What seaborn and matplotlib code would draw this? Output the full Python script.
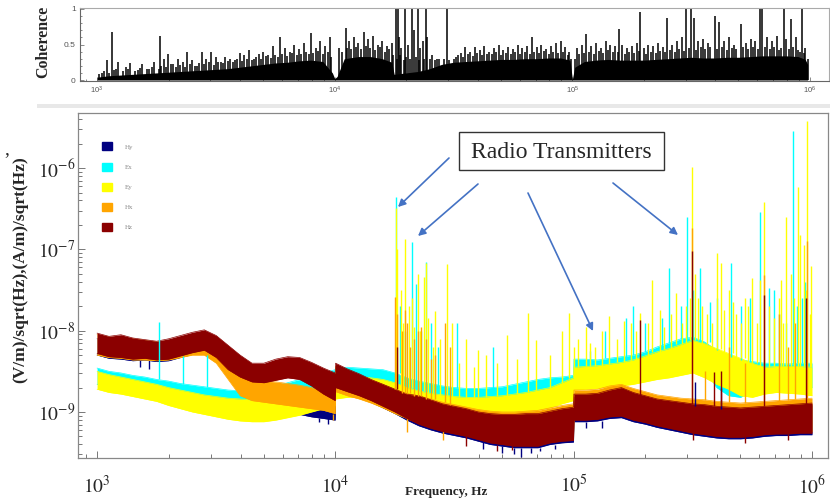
import numpy as np
import matplotlib
matplotlib.use("Agg")
import matplotlib.pyplot as plt
import seaborn as sns
from matplotlib.patches import Patch, Rectangle, FancyArrowPatch

# ---- data (log10 frequency in Hz, log10 amplitude) ----
log_f = [3.00, 3.05, 3.10, 3.15, 3.20, 3.25, 3.30, 3.35, 3.40, 3.45,
         3.50, 3.55, 3.60, 3.65, 3.70, 3.75, 3.80, 3.85, 3.90, 3.95,
         3.999, 4.001,
         4.05, 4.10, 4.15, 4.20, 4.25, 4.30, 4.35, 4.40, 4.45, 4.50,
         4.55, 4.60, 4.65, 4.70, 4.75, 4.80, 4.85, 4.90, 4.95,
         4.999, 5.001,
         5.05, 5.10, 5.15, 5.20, 5.25, 5.30, 5.35, 5.40, 5.45, 5.50,
         5.55, 5.60, 5.65, 5.70, 5.75, 5.80, 5.85, 5.90, 5.95, 6.00]

hy_top = [-8.10, -8.12, -8.13, -8.15, -8.16, -8.18, -8.15, -8.11, -8.08, -8.06,
          -8.14, -8.28, -8.50, -8.62, -8.66, -8.68, -8.70, -8.72, -8.74, -8.76,
          -8.78, -8.50,
          -8.55, -8.60, -8.66, -8.72, -8.78, -8.83, -8.86, -8.90, -8.94, -8.97,
          -9.00, -9.03, -9.05, -9.06, -9.06, -9.05, -9.05, -9.02, -8.99,
          -8.97, -8.82,
          -8.82, -8.80, -8.77, -8.74, -8.79, -8.83, -8.87, -8.89, -8.91, -8.93,
          -8.94, -8.96, -8.97, -8.97, -8.96, -8.95, -8.94, -8.93, -8.92, -8.91]
hy_bot = [-8.30, -8.34, -8.35, -8.37, -8.36, -8.38, -8.37, -8.33, -8.29, -8.26,
          -8.35, -8.55, -8.76, -8.90, -8.96, -8.98, -9.00, -9.03, -9.06, -9.08,
          -9.10, -8.72,
          -8.77, -8.82, -8.88, -8.95, -9.02, -9.10, -9.17, -9.22, -9.26, -9.29,
          -9.32, -9.36, -9.40, -9.42, -9.44, -9.44, -9.44, -9.40, -9.38,
          -9.37, -9.12,
          -9.12, -9.11, -9.08, -9.07, -9.12, -9.15, -9.19, -9.22, -9.25, -9.28,
          -9.30, -9.32, -9.33, -9.33, -9.32, -9.30, -9.29, -9.29, -9.28, -9.28]

ex_top = [-8.46, -8.50, -8.52, -8.55, -8.57, -8.60, -8.62, -8.65, -8.67, -8.69,
          -8.71, -8.73, -8.74, -8.74, -8.72, -8.68, -8.64, -8.60, -8.56, -8.52,
          -8.48, -8.46,
          -8.45, -8.46, -8.47, -8.48, -8.52, -8.58, -8.62, -8.65, -8.68, -8.70,
          -8.71, -8.71, -8.70, -8.69, -8.66, -8.63, -8.60, -8.58, -8.57,
          -8.55, -8.35,
          -8.35, -8.36, -8.34, -8.32, -8.30, -8.26, -8.20, -8.15, -8.10, -8.08,
          -8.14, -8.24, -8.32, -8.36, -8.38, -8.40, -8.40, -8.41, -8.40, -8.40]
ex_bot = [-8.66, -8.70, -8.72, -8.75, -8.78, -8.80, -8.83, -8.86, -8.88, -8.90,
          -8.93, -8.95, -8.97, -8.98, -8.97, -8.93, -8.88, -8.84, -8.80, -8.76,
          -8.72, -8.70,
          -8.69, -8.70, -8.71, -8.72, -8.76, -8.82, -8.86, -8.89, -8.92, -8.94,
          -8.95, -8.95, -8.94, -8.93, -8.90, -8.87, -8.84, -8.82, -8.80,
          -8.78, -8.60,
          -8.60, -8.61, -8.59, -8.57, -8.55, -8.52, -8.47, -8.42, -8.38, -8.36,
          -8.48, -8.70, -8.80, -8.82, -8.74, -8.70, -8.70, -8.71, -8.70, -8.70]

ey_top = [-8.50, -8.54, -8.57, -8.60, -8.63, -8.66, -8.70, -8.73, -8.76, -8.79,
          -8.81, -8.83, -8.84, -8.85, -8.85, -8.84, -8.82, -8.80, -8.77, -8.73,
          -8.68, -8.60,
          -8.58, -8.57, -8.58, -8.60, -8.64, -8.70, -8.74, -8.77, -8.79, -8.81,
          -8.82, -8.82, -8.81, -8.80, -8.78, -8.76, -8.73, -8.70, -8.64,
          -8.58, -8.45,
          -8.44, -8.43, -8.41, -8.39, -8.36, -8.31, -8.26, -8.22, -8.17, -8.12,
          -8.16, -8.22, -8.28, -8.34, -8.40, -8.45, -8.44, -8.44, -8.44, -8.45]
ey_bot = [-8.72, -8.76, -8.78, -8.81, -8.84, -8.87, -8.92, -8.96, -9.00, -9.03,
          -9.06, -9.09, -9.11, -9.12, -9.12, -9.10, -9.07, -9.04, -9.00, -8.96,
          -8.92, -8.84,
          -8.82, -8.82, -8.84, -8.88, -8.93, -8.97, -9.00, -9.02, -9.04, -9.05,
          -9.06, -9.06, -9.05, -9.04, -9.02, -9.00, -8.98, -8.95, -8.90,
          -8.86, -8.73,
          -8.72, -8.71, -8.69, -8.68, -8.66, -8.63, -8.60, -8.58, -8.55, -8.52,
          -8.58, -8.66, -8.72, -8.80, -8.82, -8.78, -8.76, -8.77, -8.78, -8.80]

hx_top = [-8.05, -8.08, -8.08, -8.10, -8.12, -8.14, -8.12, -8.08, -8.05, -8.04,
          -8.14, -8.35, -8.55, -8.60, -8.62, -8.63, -8.65, -8.67, -8.70, -8.73,
          -8.76, -8.44,
          -8.50, -8.55, -8.61, -8.66, -8.72, -8.77, -8.80, -8.84, -8.88, -8.91,
          -8.94, -8.97, -8.99, -9.00, -9.00, -8.99, -8.98, -8.95, -8.92,
          -8.90, -8.73,
          -8.73, -8.72, -8.68, -8.66, -8.71, -8.75, -8.79, -8.81, -8.83, -8.84,
          -8.85, -8.87, -8.88, -8.89, -8.88, -8.87, -8.86, -8.85, -8.84, -8.83]
hx_bot = [-8.30, -8.33, -8.34, -8.36, -8.36, -8.37, -8.36, -8.33, -8.30, -8.30,
          -8.40, -8.60, -8.80, -8.86, -8.88, -8.90, -8.92, -8.94, -8.96, -8.98,
          -9.02, -8.75,
          -8.80, -8.84, -8.89, -8.95, -9.02, -9.08, -9.14, -9.19, -9.23, -9.26,
          -9.29, -9.33, -9.36, -9.38, -9.40, -9.40, -9.40, -9.36, -9.34,
          -9.33, -9.08,
          -9.08, -9.07, -9.04, -9.02, -9.07, -9.11, -9.15, -9.18, -9.21, -9.24,
          -9.26, -9.28, -9.29, -9.29, -9.28, -9.27, -9.26, -9.25, -9.24, -9.24]

hz_top = [-8.03, -8.07, -8.05, -8.09, -8.11, -8.13, -8.10, -8.06, -8.02, -7.99,
          -8.06, -8.18, -8.30, -8.40, -8.40, -8.35, -8.32, -8.33, -8.39, -8.46,
          -8.52, -8.40,
          -8.47, -8.53, -8.60, -8.66, -8.72, -8.78, -8.80, -8.85, -8.90, -8.93,
          -8.96, -9.00, -9.02, -9.03, -9.03, -9.02, -9.02, -8.99, -8.96,
          -8.94, -8.78,
          -8.78, -8.77, -8.73, -8.70, -8.76, -8.80, -8.84, -8.86, -8.88, -8.90,
          -8.91, -8.93, -8.94, -8.95, -8.94, -8.93, -8.92, -8.91, -8.90, -8.89]
hz_bot = [-8.28, -8.32, -8.33, -8.35, -8.34, -8.36, -8.35, -8.31, -8.27, -8.24,
          -8.33, -8.48, -8.57, -8.63, -8.64, -8.61, -8.58, -8.60, -8.68, -8.78,
          -8.86, -8.70,
          -8.75, -8.80, -8.86, -8.93, -9.00, -9.08, -9.15, -9.20, -9.24, -9.27,
          -9.30, -9.34, -9.38, -9.40, -9.42, -9.42, -9.42, -9.38, -9.36,
          -9.35, -9.10,
          -9.10, -9.09, -9.06, -9.05, -9.10, -9.13, -9.17, -9.20, -9.23, -9.26,
          -9.28, -9.30, -9.31, -9.31, -9.30, -9.28, -9.27, -9.27, -9.26, -9.26]

# narrow lines above each band: log10 f, log10 peak
hy_spk_f = [5.51, 5.62]
hy_spk_v = [-8.63, -8.70]
ex_spk_f = [3.26, 3.36, 3.46, 4.256, 4.27, 4.29, 4.32, 4.34, 4.36, 4.38,
            4.40, 4.43, 4.51, 4.66, 5.07, 5.13, 5.22, 5.25, 5.30, 5.37,
            5.40, 5.45, 5.475, 5.50, 5.53, 5.57, 5.60, 5.66, 5.70, 5.74,
            5.78, 5.82, 5.84, 5.86, 5.89, 5.92, 5.935, 5.96, 5.97]
ex_spk_v = [-7.89, -8.31, -8.30, -6.36, -7.70, -8.00, -6.91, -7.43, -8.00, -7.15,
            -7.90, -8.20, -7.91, -8.20, -8.25, -8.00, -7.84, -7.70, -7.90, -7.85,
            -7.23, -7.70, -6.60, -7.50, -7.23, -7.65, -7.60, -7.17, -7.70, -7.60,
            -6.54, -7.48, -7.50, -7.80, -7.90, -5.55, -7.70, -7.60, -7.40]
ey_spk_f = [4.255, 4.26, 4.275, 4.285, 4.294, 4.31, 4.32, 4.33, 4.345, 4.355,
            4.37, 4.38, 4.39, 4.41, 4.42, 4.44, 4.47, 4.49, 4.52, 4.55,
            4.58, 4.60, 4.63, 4.68, 4.72, 4.76, 4.81, 4.84, 4.90, 4.95,
            4.98, 5.00, 5.02, 5.05, 5.07, 5.09, 5.12, 5.15, 5.18, 5.21,
            5.24, 5.26, 5.28, 5.31, 5.33, 5.36, 5.38, 5.41, 5.43, 5.455,
            5.47, 5.49, 5.496, 5.51, 5.52, 5.54, 5.56, 5.58, 5.60, 5.62,
            5.63, 5.65, 5.67, 5.68, 5.70, 5.72, 5.73, 5.75, 5.77, 5.78,
            5.80, 5.82, 5.84, 5.86, 5.87, 5.88, 5.89, 5.91, 5.925, 5.94,
            5.95, 5.965, 5.975, 5.98, 5.99, 5.995]
ey_spk_v = [-6.49, -7.00, -7.50, -7.90, -6.87, -7.70, -7.60, -7.95, -7.30, -8.00,
            -7.34, -7.17, -7.85, -8.20, -7.76, -8.10, -7.18, -7.90, -8.40, -8.10,
            -8.45, -8.24, -8.30, -8.40, -8.05, -8.35, -7.78, -8.12, -8.30, -8.00,
            -7.78, -8.20, -8.10, -7.96, -8.15, -8.20, -8.00, -7.82, -8.10, -7.88,
            -7.90, -8.00, -7.78, -7.90, -7.38, -7.75, -7.95, -7.80, -7.54, -7.90,
            -7.70, -7.60, -5.99, -7.30, -7.60, -7.70, -7.80, -7.90, -7.05, -7.17,
            -7.75, -7.50, -7.65, -7.80, -7.90, -7.60, -7.70, -7.35, -7.90, -7.38,
            -6.42, -7.70, -7.85, -7.60, -7.38, -7.90, -6.60, -7.30, -7.60, -6.23,
            -6.82, -6.95, -7.50, -5.42, -7.80, -7.20]
hx_spk_f = [4.25, 4.26, 4.28, 4.29, 4.30, 4.315, 4.33, 4.345, 4.36, 4.38,
            4.40, 4.42, 4.46, 4.48, 5.496, 5.55, 5.65, 5.72, 5.80, 5.86,
            5.90, 5.93, 5.98]
hx_spk_v = [-7.59, -7.80, -8.00, -7.75, -7.90, -8.20, -8.10, -8.00, -7.95, -8.10,
            -8.35, -8.30, -7.90, -8.20, -6.74, -8.50, -8.20, -8.40, -7.32, -7.80,
            -8.20, -7.90, -6.90]
hz_spk_f = [4.26, 5.28, 5.496, 5.59, 5.62, 5.80, 5.975]
hz_spk_v = [-8.20, -7.87, -7.02, -8.51, -8.50, -7.56, -7.60]

# short drops below the magnetic bands
hy_dip_f = [3.18, 3.22, 3.93, 3.97, 4.62, 4.70, 4.75, 4.78, 4.82, 4.86,
            4.92, 5.05, 5.12]
hy_dip_v = [-8.45, -8.47, -9.12, -9.15, -9.45, -9.50, -9.52, -9.55, -9.50, -9.48,
            -9.45, -9.20, -9.20]
hz_dip_f = [4.55, 4.68, 4.74, 5.50, 5.72, 5.90]
hz_dip_v = [-9.42, -9.48, -9.47, -9.35, -9.38, -9.35]
hx_dip_f = [3.99, 4.30, 4.45]
hx_dip_v = [-9.10, -9.25, -9.35]

# coherence: solid floor, tall peaks and the denser comb
coh_f = [3.00, 3.05, 3.10, 3.15, 3.20, 3.25, 3.30, 3.35, 3.40, 3.45,
         3.50, 3.55, 3.60, 3.65, 3.70, 3.75, 3.80, 3.85, 3.90, 3.95,
         3.99, 4.00, 4.01, 4.04, 4.10, 4.15, 4.20, 4.24, 4.25, 4.30,
         4.35, 4.40, 4.45, 4.50, 4.55, 4.60, 4.65, 4.70, 4.75, 4.80,
         4.85, 4.90, 4.95, 4.99, 5.00, 5.01, 5.05, 5.10, 5.15, 5.20,
         5.25, 5.30, 5.35, 5.40, 5.45, 5.50, 5.55, 5.60, 5.65, 5.70,
         5.75, 5.80, 5.85, 5.90, 5.95, 5.98, 5.99]
coh_floor = [0.04, 0.06, 0.07, 0.08, 0.09, 0.10, 0.11, 0.12, 0.13, 0.14,
             0.15, 0.16, 0.18, 0.20, 0.22, 0.24, 0.25, 0.27, 0.28, 0.26,
             0.10, 0.02, 0.05, 0.30, 0.33, 0.33, 0.30, 0.25, 0.08, 0.10,
             0.12, 0.16, 0.22, 0.25, 0.26, 0.27, 0.28, 0.29, 0.29, 0.30,
             0.30, 0.31, 0.31, 0.28, 0.01, 0.18, 0.26, 0.28, 0.29, 0.28,
             0.28, 0.28, 0.29, 0.30, 0.31, 0.32, 0.31, 0.31, 0.32, 0.32,
             0.33, 0.34, 0.34, 0.34, 0.33, 0.29, 0.22]
coh_pk_f = [3.02, 3.04, 3.063, 3.08, 3.09, 3.12, 3.14, 3.17, 3.19, 3.22,
            3.24, 3.265, 3.28, 3.30, 3.32, 3.34, 3.36, 3.38, 3.40, 3.42,
            3.44, 3.46, 3.48, 3.50, 3.52, 3.54, 3.56, 3.58, 3.60, 3.62,
            3.64, 3.66, 3.68, 3.70, 3.72, 3.74, 3.77, 3.79, 3.81, 3.83,
            3.85, 3.87, 3.90, 3.92, 3.94, 3.96, 3.98,
            4.02, 4.048, 4.06, 4.08, 4.10, 4.122, 4.14, 4.16, 4.18, 4.20,
            4.22, 4.24, 4.256, 4.265, 4.27, 4.28, 4.294, 4.31, 4.327, 4.335,
            4.35, 4.36, 4.37, 4.383, 4.39, 4.41, 4.43, 4.472,
            4.50, 4.53, 4.55, 4.57, 4.59, 4.61, 4.63, 4.65, 4.67, 4.69,
            4.71, 4.73, 4.75, 4.77, 4.79, 4.81, 4.829, 4.85, 4.87, 4.89,
            4.91, 4.93, 4.952, 4.97, 4.985,
            5.02, 5.04, 5.059, 5.08, 5.10, 5.12, 5.14, 5.16, 5.18, 5.197,
            5.21, 5.23, 5.25, 5.27, 5.286, 5.30, 5.32, 5.34, 5.36, 5.38,
            5.398, 5.42, 5.44, 5.46, 5.480, 5.498, 5.51, 5.53, 5.55, 5.57,
            5.599, 5.617, 5.64, 5.66, 5.68, 5.71, 5.73, 5.75, 5.77, 5.788,
            5.80, 5.82, 5.84, 5.86, 5.889, 5.90, 5.922, 5.94, 5.967, 5.98]
coh_pk_v = [0.10, 0.28, 0.68, 0.15, 0.25, 0.18, 0.24, 0.14, 0.22, 0.16,
            0.25, 0.62, 0.29, 0.36, 0.22, 0.30, 0.25, 0.40, 0.28, 0.20,
            0.39, 0.30, 0.40, 0.33, 0.26, 0.32, 0.30, 0.28, 0.38, 0.35,
            0.42, 0.30, 0.36, 0.40, 0.35, 0.48, 0.60, 0.45, 0.40, 0.50,
            0.43, 0.52, 0.66, 0.45, 0.55, 0.48, 0.60,
            0.45, 0.73, 0.55, 0.60, 0.52, 0.68, 0.58, 0.62, 0.50, 0.55,
            0.48, 0.52, 1.00, 1.00, 0.60, 0.45, 1.00, 0.50, 1.00, 0.70,
            1.00, 0.45, 0.55, 1.00, 0.60, 0.35, 0.30, 1.00,
            0.30, 0.38, 0.46, 0.40, 0.46, 0.42, 0.48, 0.40, 0.45, 0.50,
            0.42, 0.47, 0.44, 0.50, 0.45, 0.48, 0.60, 0.46, 0.50, 0.44,
            0.48, 0.52, 0.55, 0.47, 0.40,
            0.45, 0.50, 0.65, 0.48, 0.52, 0.45, 0.55, 0.50, 0.48, 0.72,
            0.50, 0.45, 0.48, 0.52, 0.96, 0.45, 0.50, 0.48, 0.52, 0.46,
            0.88, 0.50, 0.55, 0.60, 1.00, 1.00, 0.87, 0.55, 0.58, 0.52,
            0.90, 0.82, 0.55, 0.60, 0.50, 0.79, 0.52, 0.58, 0.55, 1.00,
            1.00, 0.60, 0.55, 0.62, 1.00, 0.58, 0.86, 0.60, 1.00, 0.45]
coh_comb_f = [3.01, 3.03, 3.05, 3.07, 3.11, 3.13, 3.16, 3.18, 3.21, 3.23,
              3.26, 3.27, 3.29, 3.31, 3.33, 3.35, 3.37, 3.39, 3.41, 3.43,
              3.45, 3.47, 3.49, 3.51, 3.53, 3.55, 3.57, 3.59, 3.61, 3.63,
              3.65, 3.67, 3.69, 3.71, 3.73, 3.75, 3.76, 3.78, 3.80, 3.82,
              3.84, 3.86, 3.88, 3.89, 3.91, 3.93, 3.95, 3.97, 3.985,
              4.03, 4.05, 4.07, 4.09, 4.11, 4.13, 4.15, 4.17, 4.19, 4.21,
              4.23, 4.245, 4.26, 4.275, 4.29, 4.30, 4.315, 4.34, 4.355, 4.375,
              4.40, 4.42, 4.44, 4.46, 4.48,
              4.51, 4.52, 4.54, 4.56, 4.58, 4.60, 4.62, 4.64, 4.66, 4.68,
              4.70, 4.72, 4.74, 4.76, 4.78, 4.80, 4.82, 4.84, 4.86, 4.88,
              4.90, 4.92, 4.94, 4.96, 4.98, 4.995,
              5.01, 5.03, 5.05, 5.07, 5.09, 5.11, 5.13, 5.15, 5.17, 5.19,
              5.22, 5.24, 5.26, 5.28, 5.31, 5.33, 5.35, 5.37, 5.39, 5.41,
              5.43, 5.45, 5.47, 5.49, 5.52, 5.54, 5.56, 5.58, 5.61, 5.63,
              5.65, 5.67, 5.69, 5.72, 5.74, 5.76, 5.78, 5.81, 5.83, 5.85,
              5.87, 5.88, 5.91, 5.93, 5.95, 5.96, 5.975, 5.99]
coh_comb_v = [0.08, 0.12, 0.10, 0.14, 0.13, 0.16, 0.12, 0.17, 0.15, 0.18,
              0.16, 0.20, 0.19, 0.22, 0.18, 0.21, 0.19, 0.23, 0.20, 0.24,
              0.22, 0.25, 0.21, 0.26, 0.24, 0.27, 0.25, 0.29, 0.27, 0.30,
              0.28, 0.32, 0.30, 0.34, 0.31, 0.35, 0.33, 0.36, 0.34, 0.38,
              0.35, 0.37, 0.40, 0.36, 0.38, 0.41, 0.36, 0.40, 0.32,
              0.40, 0.45, 0.43, 0.47, 0.44, 0.48, 0.45, 0.42, 0.46, 0.40,
              0.44, 0.35, 0.30, 0.35, 0.28, 0.32, 0.30, 0.33, 0.28, 0.30,
              0.30, 0.28, 0.30, 0.29, 0.28,
              0.32, 0.35, 0.33, 0.36, 0.34, 0.38, 0.35, 0.37, 0.36, 0.39,
              0.35, 0.38, 0.36, 0.40, 0.37, 0.39, 0.36, 0.40, 0.38, 0.41,
              0.37, 0.40, 0.38, 0.39, 0.35, 0.30,
              0.30, 0.36, 0.38, 0.40, 0.37, 0.41, 0.38, 0.42, 0.39, 0.40,
              0.37, 0.40, 0.38, 0.41, 0.37, 0.40, 0.38, 0.41, 0.39, 0.42,
              0.40, 0.44, 0.41, 0.45, 0.42, 0.46, 0.43, 0.47, 0.44, 0.46,
              0.42, 0.45, 0.43, 0.47, 0.44, 0.46, 0.43, 0.47, 0.44, 0.46,
              0.42, 0.45, 0.43, 0.46, 0.42, 0.40, 0.38, 0.30]

names = ["Hy", "Ex", "Ey", "Hx", "Hz"]
colors = ["#000080", "#00ffff", "#ffff00", "#ffa500", "#8b0000"]
bands_top = [hy_top, ex_top, ey_top, hx_top, hz_top]
bands_bot = [hy_bot, ex_bot, ey_bot, hx_bot, hz_bot]
spikes = [(hy_spk_f, hy_spk_v), (ex_spk_f, ex_spk_v), (ey_spk_f, ey_spk_v),
          (hx_spk_f, hx_spk_v), (hz_spk_f, hz_spk_v)]
dips = [(hy_dip_f, hy_dip_v, 0), (hx_dip_f, hx_dip_v, 3), (hz_dip_f, hz_dip_v, 4)]

x_ticks = [1e3, 1e4, 1e5, 1e6]
x_ticklabels = ["$10^{3}$", "$10^{4}$", "$10^{5}$", "$10^{6}$"]
y_ticks = [1e-9, 1e-8, 1e-7, 1e-6]
y_ticklabels = ["$10^{-9}$", "$10^{-8}$", "$10^{-7}$", "$10^{-6}$"]

# ---- style ----
sns.set_theme(style="ticks")
plt.rcParams["font.family"] = ["Liberation Serif", "DejaVu Serif"]
plt.rcParams["mathtext.fontset"] = "stix"

fig = plt.figure(figsize=(8.3, 5.04), dpi=100)
ax_c = fig.add_axes([80 / 830, 1 - 81 / 504, 749 / 830, 73 / 504])
ax = fig.add_axes([78 / 830, 1 - 458 / 504, 750 / 830, 345 / 504])

lf = np.array(log_f)
freq = 10 ** lf

# ---- coherence panel ----
ax_c.set_xscale("log")
ax_c.fill_between(10 ** np.array(coh_f), 0, coh_floor, color="black", lw=0)
ax_c.vlines(10 ** np.array(coh_comb_f), 0, coh_comb_v, color="black", lw=1.1)
ax_c.vlines(10 ** np.array(coh_pk_f), 0, coh_pk_v, color="black", lw=1.1)
ax_c.set_xlim(10 ** 2.928, 10 ** 6.08)
ax_c.set_ylim(-0.014, 1.014)
ax_c.set_xticks(x_ticks)
ax_c.set_xticklabels([r"$\mathregular{10^{%d}}$" % p for p in (3, 4, 5, 6)],
                     fontfamily="Liberation Sans", fontsize=5.5, color="#555555")
ax_c.set_yticks([0, 0.5, 1])
ax_c.set_yticklabels(["0", "0.5", "1"], fontfamily="Liberation Sans",
                     fontsize=6, color="#555555")
ax_c.set_yticks([0.1, 0.2, 0.3, 0.4, 0.6, 0.7, 0.8, 0.9], minor=True)
ax_c.tick_params(which="both", direction="in", color="#777777", width=0.6)
ax_c.tick_params(which="major", length=3, pad=3)
ax_c.tick_params(which="minor", length=1.5)
for s in ["left", "bottom"]:
    ax_c.spines[s].set_color("#666666")
for s in ["top", "right"]:
    ax_c.spines[s].set_color("#aaaaaa")
for s in ax_c.spines.values():
    s.set_linewidth(0.8)
ax_c.set_ylabel("Coherence", fontsize=11.5, fontweight="bold")
ax_c.yaxis.set_label_coords(-0.038, 0.53)

# ---- spectra panel ----
ax.set_xscale("log")
ax.set_yscale("log")
for i, (top, bot, c) in enumerate(zip(bands_top, bands_bot, colors)):
    lo = 10 ** np.array(bot)
    hi = 10 ** np.array(top)
    z = 1 + 0.1 * i
    ax.fill_between(freq, lo, hi, color=c, lw=0, zorder=z)
    sns.lineplot(x=freq, y=hi, color=c, lw=0.5, ax=ax, zorder=z)
    sns.lineplot(x=freq, y=lo, color=c, lw=0.5, ax=ax, zorder=z)

for (sf, sv), top, c in zip(spikes, bands_top, colors):
    sf = np.array(sf)
    idx = np.abs(lf[:, None] - sf[None, :]).argmin(axis=0)
    ax.vlines(10 ** sf, 10 ** np.array(top)[idx], 10 ** np.array(sv),
              color=c, lw=1.0, zorder=3)
for df, dv, k in dips:
    df = np.array(df)
    idx = np.abs(lf[:, None] - df[None, :]).argmin(axis=0)
    ax.vlines(10 ** df, 10 ** np.array(dv), 10 ** np.array(bands_bot[k])[idx],
              color=colors[k], lw=1.0, zorder=1 + 0.1 * k)

ax.set_xlim(10 ** 2.92, 10 ** 6.067)
ax.set_ylim(10 ** -9.566, 10 ** -5.323)
ax.set_xticks(x_ticks)
ax.set_xticklabels(x_ticklabels, fontsize=14)
ax.set_yticks(y_ticks)
ax.set_yticklabels(y_ticklabels, fontsize=14)
ax.tick_params(which="both", direction="in", color="#777777", width=0.7)
ax.tick_params(which="major", length=5)
ax.tick_params(which="minor", length=3)
ax.tick_params(axis="x", which="major", pad=12)
ax.tick_params(axis="y", which="major", pad=2)
for s in ax.spines.values():
    s.set_color("#888888")
    s.set_linewidth(0.9)
ax.set_xlabel("")
ax.set_ylabel("(V/m)/sqrt(Hz),(A/m)/sqrt(Hz)", fontsize=12.5, fontweight="bold")
ax.yaxis.set_label_coords(-0.066, 0.545)
fig.text(446 / 830, 1 - 492 / 504, "Frequency, Hz", fontsize=9.5,
         fontweight="bold", ha="center", va="center")

handles = [Patch(facecolor=c, edgecolor=c) for c in colors]
ax.legend(handles, names, loc="upper left", bbox_to_anchor=(0.028, 0.925),
          frameon=False, fontsize=5, labelcolor="#888888", handlelength=1.4,
          handleheight=1.4, labelspacing=1.75, handletextpad=1.8, borderpad=0)

# ---- annotation ----
fig.add_artist(Rectangle((459 / 830, 1 - 170 / 504), 205 / 830, 38 / 504,
                         transform=fig.transFigure, fc="white", ec="#333333",
                         lw=1, zorder=5))
fig.text(561 / 830, 1 - 152 / 504, "Radio Transmitters", fontsize=17,
         ha="center", va="center", zorder=6)
arrow_kw = dict(arrowstyle="-|>", color="#4472c4", lw=1.2, mutation_scale=11,
                shrinkA=0, shrinkB=0)
for (x0, y0), (x1, y1) in [((449, 158), (398, 207)), ((478, 184), (418, 236)),
                           ((528, 193), (593, 331)), ((613, 183), (678, 235))]:
    fig.add_artist(FancyArrowPatch((x0 / 830, 1 - y0 / 504),
                                   (x1 / 830, 1 - y1 / 504),
                                   transform=fig.transFigure, **arrow_kw))

fig.add_artist(Rectangle((37 / 830, 1 - 108 / 504), 793 / 830, 4 / 504,
                         transform=fig.transFigure, color="#e8e8e8", lw=0))
fig.text(4 / 830, 1 - 150 / 504, ",", fontsize=14, ha="left", va="center")

fig.savefig("out.png", dpi=100)
